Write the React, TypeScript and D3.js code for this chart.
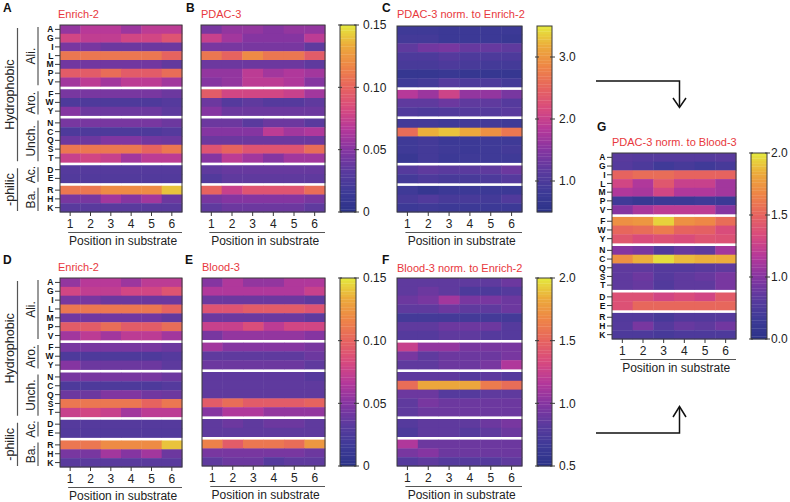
import React from "react";
import * as d3 from "d3";

const aminoAcids = ["A","G","I","L","M","P","V","F","W","Y","N","C","Q","S","T","D","E","R","H","K"];
const groupSizes = [7, 3, 5, 2, 3];
const groupLabels = ["Ali.", "Aro.", "Unch.", "Ac.", "Ba."];
const classLabels = [
  { label: "Hydrophobic", from: 0, to: 2 },
  { label: "-philic", from: 3, to: 4 },
];
const positions = ["1", "2", "3", "4", "5", "6"];
const xTitle = "Position in substrate";

const enrich2 = [
  [0.055,0.068,0.068,0.058,0.07,0.07],
  [0.08,0.072,0.072,0.08,0.08,0.09],
  [0.045,0.045,0.04,0.04,0.04,0.04],
  [0.11,0.11,0.11,0.11,0.11,0.1],
  [0.042,0.042,0.042,0.042,0.042,0.036],
  [0.095,0.095,0.105,0.095,0.095,0.105],
  [0.06,0.07,0.06,0.07,0.07,0.06],
  [0.045,0.045,0.045,0.045,0.045,0.04],
  [0.026,0.026,0.026,0.026,0.026,0.03],
  [0.05,0.04,0.04,0.04,0.04,0.034],
  [0.045,0.045,0.045,0.045,0.045,0.04],
  [0.026,0.026,0.026,0.026,0.026,0.03],
  [0.04,0.04,0.048,0.048,0.042,0.04],
  [0.11,0.11,0.11,0.11,0.1,0.11],
  [0.075,0.08,0.075,0.06,0.07,0.07],
  [0.03,0.03,0.03,0.03,0.03,0.03],
  [0.028,0.028,0.028,0.028,0.028,0.028],
  [0.11,0.11,0.12,0.12,0.12,0.14],
  [0.045,0.045,0.06,0.05,0.06,0.04],
  [0.032,0.032,0.032,0.032,0.032,0.032],
];

const pdac3 = [
  [0.045,0.055,0.055,0.05,0.055,0.055],
  [0.075,0.06,0.05,0.05,0.05,0.07],
  [0.045,0.045,0.045,0.045,0.045,0.035],
  [0.11,0.1,0.12,0.11,0.11,0.095],
  [0.04,0.04,0.04,0.04,0.04,0.035],
  [0.055,0.055,0.07,0.06,0.065,0.06],
  [0.05,0.055,0.07,0.07,0.065,0.05],
  [0.095,0.08,0.08,0.08,0.075,0.06],
  [0.04,0.03,0.035,0.03,0.03,0.035],
  [0.05,0.04,0.04,0.04,0.04,0.04],
  [0.04,0.04,0.033,0.04,0.04,0.033],
  [0.05,0.05,0.05,0.07,0.06,0.065],
  [0.04,0.04,0.04,0.04,0.04,0.04],
  [0.09,0.1,0.09,0.09,0.09,0.105],
  [0.05,0.07,0.06,0.05,0.06,0.06],
  [0.035,0.038,0.038,0.038,0.038,0.038],
  [0.028,0.035,0.035,0.035,0.035,0.035],
  [0.1,0.075,0.09,0.09,0.09,0.105],
  [0.045,0.05,0.05,0.05,0.05,0.045],
  [0.035,0.04,0.04,0.04,0.04,0.035],
];

const blood3 = [
  [0.05,0.065,0.055,0.055,0.065,0.065],
  [0.065,0.065,0.065,0.065,0.065,0.075],
  [0.04,0.04,0.04,0.04,0.04,0.035],
  [0.09,0.09,0.095,0.095,0.095,0.09],
  [0.04,0.04,0.04,0.04,0.04,0.035],
  [0.075,0.075,0.085,0.07,0.08,0.08],
  [0.045,0.055,0.055,0.055,0.055,0.05],
  [0.06,0.05,0.05,0.05,0.05,0.045],
  [0.035,0.035,0.035,0.035,0.035,0.04],
  [0.04,0.04,0.04,0.04,0.04,0.035],
  [0.035,0.035,0.035,0.035,0.035,0.03],
  [0.035,0.035,0.035,0.035,0.035,0.035],
  [0.035,0.035,0.035,0.035,0.035,0.035],
  [0.095,0.105,0.095,0.095,0.095,0.1],
  [0.05,0.065,0.065,0.055,0.055,0.055],
  [0.035,0.04,0.035,0.04,0.04,0.035],
  [0.035,0.035,0.035,0.035,0.035,0.035],
  [0.115,0.095,0.11,0.11,0.105,0.125],
  [0.045,0.045,0.045,0.045,0.045,0.04],
  [0.035,0.04,0.04,0.03,0.035,0.035],
];

const pdacNormEnrich = [
  [0.85,0.85,0.8,0.8,0.8,0.8],
  [0.9,0.9,0.8,0.8,0.8,0.75],
  [1.2,1.35,1.4,1.25,1.25,1.2],
  [1.0,1.0,1.1,1.0,1.0,1.0],
  [0.95,0.95,1.0,0.95,0.9,0.9],
  [0.7,0.7,0.75,0.7,0.7,0.7],
  [0.85,0.9,1.1,1.0,1.0,0.9],
  [1.85,1.65,2.05,1.6,1.6,1.4],
  [1.2,1.2,1.3,1.2,1.2,1.1],
  [1.05,1.0,1.05,1.1,1.1,1.15],
  [0.9,0.9,0.85,0.9,0.9,0.85],
  [2.6,3.2,3.3,3.15,2.95,2.7],
  [0.85,0.9,0.8,0.8,0.85,0.85],
  [0.85,0.9,0.85,0.8,0.85,0.9],
  [0.75,0.9,0.8,0.85,0.85,0.85],
  [1.1,1.2,1.15,1.15,1.2,1.3],
  [0.9,1.0,0.95,0.95,1.0,1.1],
  [0.85,0.7,0.8,0.8,0.8,0.8],
  [0.95,1.05,0.95,0.95,0.9,1.05],
  [0.8,0.85,0.8,0.8,0.8,0.8],
];

const bloodNormEnrich = [
  [0.85,0.85,0.85,0.85,0.85,0.9],
  [0.85,0.9,0.85,0.75,0.75,0.8],
  [0.9,0.95,1.1,0.95,0.95,0.9],
  [0.85,0.85,0.9,0.85,0.85,0.9],
  [0.7,0.7,0.7,0.7,0.7,0.7],
  [0.85,0.85,0.9,0.9,0.9,0.8],
  [0.8,0.8,0.85,0.85,0.8,0.8],
  [1.25,1.05,1.05,0.95,0.95,0.95],
  [0.95,0.85,0.9,0.9,0.9,0.95],
  [0.85,0.85,0.9,0.9,0.95,1.15],
  [0.85,0.85,0.85,0.8,0.85,0.8],
  [1.55,1.82,1.82,1.82,1.62,1.55],
  [0.9,0.9,0.8,0.8,0.85,0.85],
  [0.85,0.95,0.9,0.9,0.9,0.9],
  [0.85,0.9,0.9,0.9,0.9,0.9],
  [0.8,0.85,0.85,0.85,0.9,0.95],
  [0.75,0.85,0.85,0.8,0.85,0.9],
  [1.15,0.9,0.9,0.9,0.9,0.9],
  [0.95,1.0,0.9,0.9,0.9,0.9],
  [0.8,0.85,0.8,0.8,0.8,0.85],
];

const pdacNormBlood = [
  [0.82,0.8,0.8,0.8,0.8,0.82],
  [0.8,0.75,0.68,0.72,0.68,0.72],
  [1.5,1.55,1.55,1.5,1.5,1.5],
  [1.3,1.15,1.42,1.25,1.25,1.1],
  [1.15,1.12,1.3,1.15,1.15,1.1],
  [0.68,0.62,0.65,0.65,0.68,0.65],
  [1.0,1.12,1.2,1.2,1.2,1.0],
  [1.72,1.75,1.94,1.72,1.68,1.55],
  [1.52,1.55,1.62,1.5,1.48,1.35],
  [1.42,1.35,1.38,1.35,1.4,1.38],
  [1.0,0.95,0.78,0.88,0.85,1.1],
  [1.72,1.85,1.97,1.88,1.85,1.84],
  [0.85,0.85,0.8,0.8,0.82,0.85],
  [0.85,0.9,0.8,0.85,0.88,0.95],
  [0.85,0.88,0.78,0.85,0.85,0.95],
  [1.38,1.38,1.3,1.35,1.3,1.45],
  [1.38,1.52,1.52,1.52,1.52,1.52],
  [0.78,0.78,0.72,0.78,0.78,0.8],
  [0.8,0.95,0.8,0.88,0.85,0.92],
  [0.75,0.75,0.72,0.75,0.75,0.75],
];

const fracTickValues = [0, 0.05, 0.1, 0.15];
const fracTickLabels = ["0", "0.05", "0.10", "0.15"];
const cTickValues = [1, 2, 3];
const cTickLabels = ["1.0", "2.0", "3.0"];
const fTickValues = [0.5, 1, 1.5, 2];
const fTickLabels = ["0.5", "1.0", "1.5", "2.0"];
const gTickValues = [0.5, 1, 1.5, 2];
const gTickLabels = ["0.0", "1.0", "1.5", "2.0"];

const colorStops = ["#2b3288","#3e3a97","#5b3a9e","#8535a1","#b5389a","#d84a7e","#e6635f","#ee8447","#eca93b","#e4e93d"];
const interp = d3.piecewise(d3.interpolateRgb, colorStops);

const FONT = "'Liberation Sans', Arial, sans-serif";
const RED = "#e8383d";
const FRAME = "#3a3a3a";
const GAP = 3;

function groupOf(i: number) {
  let acc = 0;
  for (let g = 0; g < groupSizes.length; g++) {
    acc += groupSizes[g];
    if (i < acc) return g;
  }
  return groupSizes.length - 1;
}
function groupStart(g: number) {
  return d3.sum(groupSizes.slice(0, g));
}

type HP = {
  x0: number; x1: number; y0: number; y1: number;
  data: number[][]; domain: [number, number];
  rowLabels?: boolean; brackets?: boolean;
  title: string; titleX: number; titleY: number;
  letter: string; letterX: number; letterY: number;
  cbar?: { x0: number; x1: number; ticks: number[]; labels: string[]; off?: number };
};

function Heatmap(p: HP) {
  const nG = groupSizes.length;
  const rh = (p.y1 - p.y0 - (nG - 1) * GAP) / aminoAcids.length;
  const rowTop = (i: number) => p.y0 + i * rh + groupOf(i) * GAP;
  const x = d3.scaleBand<string>().domain(positions).range([p.x0, p.x1]);
  const color = d3.scaleSequential(interp).domain(p.domain).clamp(true);
  const bw = x.bandwidth();

  const cells: any[] = [];
  aminoAcids.forEach((aa, i) => {
    positions.forEach((pos, j) => {
      cells.push(
        <rect key={aa + pos} x={x(pos)!} y={rowTop(i)} width={bw + 0.4} height={rh + 0.4}
          fill={color(p.data[i][j])} />
      );
    });
  });

  let cbar: any = null;
  if (p.cbar) {
    const cb = p.cbar;
    const off = cb.off ?? 7;
    const ys = d3.scaleLinear().domain(p.domain).range([p.y1, p.y0]);
    const N = 70;
    const steps = d3.range(N).map((k) => p.domain[0] + ((k + 0.5) / N) * (p.domain[1] - p.domain[0]));
    const sh = (p.y1 - p.y0) / N;
    cbar = (
      <g>
        {steps.map((v, k) => (
          <rect key={k} x={cb.x0} y={p.y1 - (k + 1) * sh} width={cb.x1 - cb.x0} height={sh + 0.3} fill={color(v)} />
        ))}
        <rect x={cb.x0} y={p.y0} width={cb.x1 - cb.x0} height={p.y1 - p.y0} fill="none" stroke={FRAME} strokeWidth={1} />
        {cb.ticks.map((t, k) => (
          <g key={k}>
            <line x1={cb.x0 - 2} x2={cb.x0 + 2} y1={ys(t)} y2={ys(t)} stroke={FRAME} strokeWidth={1} />
            <line x1={cb.x1 - 2} x2={cb.x1 + 3} y1={ys(t)} y2={ys(t)} stroke={FRAME} strokeWidth={1} />
            <text x={cb.x1 + off} y={ys(t)} dy="0.35em" fontSize={12} fontFamily={FONT} fill="#222">{cb.labels[k]}</text>
          </g>
        ))}
      </g>
    );
  }

  return (
    <g>
      <text x={p.letterX} y={p.letterY} fontSize={12} fontWeight="bold" fontFamily={FONT} fill="#111">{p.letter}</text>
      <text x={p.titleX} y={p.titleY} fontSize={11} fontFamily={FONT} fill={RED}>{p.title}</text>
      {cells}
      <rect x={p.x0} y={p.y0} width={p.x1 - p.x0} height={p.y1 - p.y0} fill="none" stroke={FRAME} strokeWidth={1} />
      {positions.map((pos) => {
        const cx = x(pos)! + bw / 2;
        return (
          <g key={pos}>
            <line x1={cx} x2={cx} y1={p.y1} y2={p.y1 + 4} stroke={FRAME} strokeWidth={1} />
            <text x={cx} y={p.y1 + 15.5} textAnchor="middle" fontSize={12} fontFamily={FONT} fill="#222">{pos}</text>
          </g>
        );
      })}
      <line x1={x(positions[0])! + bw / 2 - 2} x2={p.x1} y1={p.y1 + 20.5} y2={p.y1 + 20.5} stroke="#555" strokeWidth={1} />
      <text x={(x(positions[0])! + bw / 2 + p.x1) / 2 - 3} y={p.y1 + 33} textAnchor="middle" fontSize={12} fontFamily={FONT} fill="#222">{xTitle}</text>
      {p.rowLabels && aminoAcids.map((aa, i) => {
        const cy = rowTop(i) + rh / 2;
        return (
          <g key={aa}>
            <line x1={p.x0 - 5} x2={p.x0} y1={cy} y2={cy} stroke={FRAME} strokeWidth={1} />
            <text x={p.x0 - 6.5} y={cy} dy="0.36em" textAnchor="end" fontSize={8.5} fontWeight="bold" fontFamily={FONT} fill="#111">{aa}</text>
          </g>
        );
      })}
      {p.brackets && groupLabels.map((gl, g) => {
        const s = groupStart(g);
        const e = s + groupSizes[g] - 1;
        const top = rowTop(s) + 2;
        const bot = rowTop(e) + rh - 1;
        return (
          <g key={gl}>
            <line x1={38} x2={38} y1={top} y2={bot} stroke="#555" strokeWidth={1.2} />
            <text transform={`translate(31,${(top + bot) / 2}) rotate(-90)`} textAnchor="middle" dy="0.35em" fontSize={12} fontFamily={FONT} fill="#222">{gl}</text>
          </g>
        );
      })}
      {p.brackets && classLabels.map((cl) => {
        const s = groupStart(cl.from);
        const e = groupStart(cl.to) + groupSizes[cl.to] - 1;
        const top = rowTop(s) + 3;
        const bot = rowTop(e) + rh - 1;
        return (
          <g key={cl.label}>
            <line x1={17.5} x2={17.5} y1={top} y2={bot} stroke="#555" strokeWidth={1.2} />
            <text transform={`translate(9.5,${(top + bot) / 2}) rotate(-90)`} textAnchor="middle" dy="0.35em" fontSize={12.5} fontFamily={FONT} fill="#222">{cl.label}</text>
          </g>
        );
      })}
      {cbar}
    </g>
  );
}

export default function App() {
  return (
    <svg width={790} height={502} style={{ position: "absolute", left: 0, top: 0, background: "#fff" }}>
      <rect x={0} y={0} width={790} height={502} fill="#fff" />
      <Heatmap x0={60} x1={182} y0={25} y1={212} data={enrich2} domain={[0, 0.15]} rowLabels brackets
        title="Enrich-2" titleX={58} titleY={18} letter="A" letterX={3} letterY={12} />
      <Heatmap x0={201} x1={325} y0={25} y1={212} data={pdac3} domain={[0, 0.15]}
        title="PDAC-3" titleX={201} titleY={18} letter="B" letterX={186} letterY={12}
        cbar={{ x0: 340, x1: 356, ticks: fracTickValues, labels: fracTickLabels }} />
      <Heatmap x0={397} x1={522} y0={26} y1={212} data={pdacNormEnrich} domain={[0.5, 3.5]}
        title="PDAC-3 norm. to Enrich-2" titleX={397} titleY={18} letter="C" letterX={382} letterY={12}
        cbar={{ x0: 537, x1: 552, ticks: cTickValues, labels: cTickLabels }} />
      <Heatmap x0={60} x1={182} y0={278} y1={467} data={enrich2} domain={[0, 0.15]} rowLabels brackets
        title="Enrich-2" titleX={58} titleY={271} letter="D" letterX={3} letterY={264} />
      <Heatmap x0={202} x1={325} y0={278} y1={466} data={blood3} domain={[0, 0.15]}
        title="Blood-3" titleX={202} titleY={271} letter="E" letterX={185} letterY={264}
        cbar={{ x0: 340, x1: 356, ticks: fracTickValues, labels: fracTickLabels }} />
      <Heatmap x0={397} x1={522} y0={278} y1={466} data={bloodNormEnrich} domain={[0.5, 2.0]}
        title="Blood-3 norm. to Enrich-2" titleX={397} titleY={272} letter="F" letterX={382} letterY={264}
        cbar={{ x0: 537, x1: 552, ticks: fTickValues, labels: fTickLabels }} />
      <Heatmap x0={612} x1={736} y0={153} y1={339} data={pdacNormBlood} domain={[0.5, 2.0]} rowLabels
        title="PDAC-3 norm. to Blood-3" titleX={612} titleY={146} letter="G" letterX={597} letterY={131}
        cbar={{ x0: 751, x1: 767, ticks: gTickValues, labels: gTickLabels, off: 4 }} />
      <polyline points="596,81 679.5,81 679.5,107" fill="none" stroke="#111" strokeWidth={1.5} />
      <polyline points="673,98 679.5,107.5 686,98" fill="none" stroke="#111" strokeWidth={1.5} />
      <polyline points="596,433 679.5,433 679.5,407" fill="none" stroke="#111" strokeWidth={1.5} />
      <polyline points="673,417 679.5,406.5 686,417" fill="none" stroke="#111" strokeWidth={1.5} />
    </svg>
  );
}
